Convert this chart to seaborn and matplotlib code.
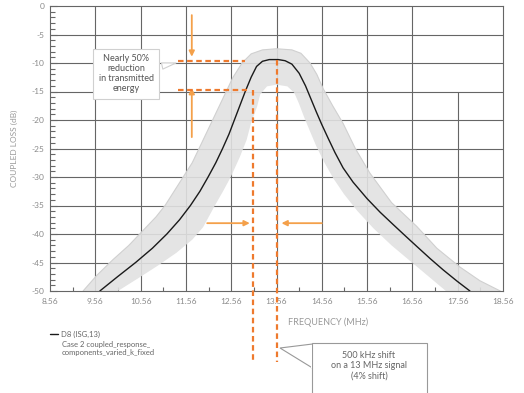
import numpy as np
import pandas as pd
import matplotlib
matplotlib.use('Agg')
from matplotlib import pyplot as plt
from matplotlib.patches import Rectangle, Polygon
import seaborn as sns

sns.set_style('white')
plt.rcParams['font.family'] = ['Lato', 'DejaVu Sans']

# ---- data ----
freq_ticks = [8.56, 9.56, 10.56, 11.56, 12.56, 13.56, 14.56, 15.56, 16.56, 17.56, 18.56]
loss_ticks = [0, -5, -10, -15, -20, -25, -30, -35, -40, -45, -50]

# nominal response (black)
d8_freq = [9.66, 10.05, 10.45, 10.82, 11.14, 11.42, 11.66, 11.87, 12.05, 12.22, 12.37,
           12.51, 12.63, 12.75, 12.87, 13.0, 13.12, 13.25, 13.4, 13.6, 13.75, 13.9,
           14.06, 14.2, 14.32, 14.44, 14.56, 14.7, 14.85, 15.03, 15.25, 15.56, 15.85,
           16.13, 16.4, 16.66, 16.95, 17.24, 17.55, 17.83]
d8_loss = [-50, -47.5, -45, -42.5, -40, -37.5, -35, -32.5, -30, -27.5, -25,
           -22.5, -20, -17.5, -15, -12.5, -10.6, -9.7, -9.4, -9.4, -9.6, -10.2,
           -11.8, -14, -16.3, -18.6, -20.8, -23.2, -25.7, -28.4, -30.9, -33.8, -36.2,
           -38.3, -40.3, -42.2, -44.3, -46.3, -48.3, -50]

# envelope of the varied-component responses (grey band)
upper_freq = [9.29, 9.6, 9.95, 10.3, 10.6, 10.9, 11.1, 11.3, 11.5, 11.7, 11.85, 12.0,
              12.15, 12.3, 12.45, 12.6, 12.8, 13.0, 13.25, 13.56, 13.9, 14.1, 14.3,
              14.45, 14.59, 14.8, 15.03, 15.3, 15.62, 16.1, 16.66, 17.1, 17.61, 18.05, 18.5]
upper_loss = [-50, -47.2, -44.5, -42, -39.5, -37, -35, -32.5, -30, -27.5, -25, -22.5,
              -20, -17.5, -15, -12.5, -10, -8.4, -7.7, -7.5, -7.7, -8.3, -10,
              -12, -14.5, -17.5, -20.6, -25, -29.3, -34.5, -38.7, -42.5, -45.8, -48.2, -50]
lower_freq = [10.06, 10.5, 10.95, 11.35, 11.7, 11.94, 12.2, 12.38, 12.55, 12.75, 12.9,
              13.0, 13.13, 13.2, 13.35, 13.56, 13.8, 13.95, 14.05, 14.17, 14.3, 14.45,
              14.62, 14.82, 15.05, 15.35, 15.7, 16.1, 16.55, 17.0, 17.3]
lower_loss = [-50, -47.8, -45.5, -43.3, -41, -38.8, -35, -32.5, -30, -26.5, -23.5,
              -20.5, -17.7, -15.5, -14.1, -13.8, -14.1, -15.2, -17, -19.5, -22, -24.8,
              -27.5, -30.3, -33, -36, -39, -42, -45, -48, -50]

# ---- figure ----
W, H = 524, 393
fig = plt.figure(figsize=(W / 100, H / 100), dpi=100)
ax = fig.add_axes([50 / W, 102 / H, 453 / W, 285 / H])

grid_col = '#666666'
orange = '#ee7a2e'
arrow_col = '#f4a04a'
txt_col = '#8a8a8a'

# grid
for f in freq_ticks[1:-1]:
    ax.axvline(f, ymax=0.7 if f == 17.56 else 1, color=grid_col, lw=0.8, zorder=1)
for l in loss_ticks[1:-1]:
    ax.axhline(l, color=grid_col, lw=0.8, zorder=1)

# grey band
band_x = upper_freq + lower_freq[::-1]
band_y = upper_loss + lower_loss[::-1]
ax.fill(band_x, band_y, color='#e1e1e1', alpha=0.9, lw=0, zorder=2)
ax.plot(upper_freq, upper_loss, color='#d0d0d0', lw=0.8, zorder=2)

df = pd.DataFrame({'freq': d8_freq, 'loss': d8_loss})
sns.lineplot(data=df, x='freq', y='loss', color='#1a1a1a', lw=1.0, ax=ax,
             label='D8 (ISG,13)', zorder=3)

ax.set_xlim(8.56, 18.56)
ax.set_ylim(-50, 0)
ax.set_xticks(freq_ticks)
ax.set_yticks(loss_ticks)
ax.set_xticks(np.arange(9.06, 18.56, 1.0), minor=True)
ax.set_yticks(np.arange(-49, 0, 1), minor=True)
ax.set_xticklabels([f'{f:.2f}' for f in freq_ticks])
ax.set_yticklabels([str(l) for l in loss_ticks])
ax.tick_params(axis='x', which='major', length=0, pad=5, labelsize=6, labelcolor=txt_col)
ax.tick_params(axis='x', which='minor', direction='in', length=3, width=0.8,
               color=grid_col, bottom=True)
ax.tick_params(axis='y', which='major', direction='in', length=5, width=0.8,
               color=grid_col, left=True, pad=4, labelsize=6, labelcolor=txt_col)
ax.tick_params(axis='y', which='minor', direction='in', length=3.5, width=0.8,
               color=grid_col, left=True)
for s in ax.spines.values():
    s.set_color(grid_col)
    s.set_linewidth(0.8)

ax.set_xlabel('')
ax.set_ylabel('COUPLED LOSS (dB)', fontsize=6, color='#999999')
ax.yaxis.set_label_coords(-32 / 453, 0.5)
fig.text(328 / W, 1 - 322 / H, 'FREQUENCY (MHz)', fontsize=6.5, color='#999999',
         ha='center', va='center')

# orange dashed guides
dash = dict(color=orange, lw=1.6, dashes=(2.5, 1.6), zorder=4, clip_on=False)
ax.plot([11.39, 12.86], [-9.6, -9.6], **dash)
ax.plot([11.39, 12.9], [-14.8, -14.8], **dash)
ax.plot([13.56, 13.56], [-9.5, -62.5], **dash)
ax.plot([13.05, 13.05], [-14.8, -62.5], **dash)

# arrows
ap = dict(arrowstyle='-|>', color=arrow_col, lw=1.3, mutation_scale=8, shrinkA=0, shrinkB=0)
ax.annotate('', xy=(11.69, -8.9), xytext=(11.69, -1.6), arrowprops=ap)
ax.annotate('', xy=(11.69, -14.4), xytext=(11.69, -23), arrowprops=ap)
ax.annotate('', xy=(12.97, -38.1), xytext=(12.03, -38.1), arrowprops=ap)
ax.annotate('', xy=(13.67, -38.1), xytext=(14.56, -38.1), arrowprops=ap)

# callout 1
ax.annotate('Nearly 50%\nreduction\nin transmitted\nenergy', xy=(11.4, -9.9),
            xytext=(10.24, -11.9), ha='center', va='center', fontsize=6.5,
            color='#555555', linespacing=1.15, zorder=5,
            bbox=dict(boxstyle='square,pad=0.6', fc='white', ec='#d0d0d0', lw=0.8),
            arrowprops=dict(arrowstyle='wedge,tail_width=0.7,shrink_factor=0.5',
                            fc='white', ec='#d0d0d0', lw=0.8))

# callout 2 (box runs off the bottom edge)
def fxy(px, py):
    return (px / W, 1 - py / H)

fig.add_artist(Polygon([fxy(280, 348), fxy(312.5, 344), fxy(312.5, 368)], closed=True,
                       fc='white', ec='#999999', lw=0.8, transform=fig.transFigure,
                       zorder=5))
fig.add_artist(Rectangle(fxy(311.7, 396), 115 / W, 53 / H, fc='white', ec='#999999',
                         lw=0.8, transform=fig.transFigure, zorder=5))
fig.add_artist(Polygon([fxy(311.2, 344.5), fxy(312.2, 344.5), fxy(312.2, 367.5),
                        fxy(311.2, 367.5)], closed=True, fc='white', ec='none',
                       transform=fig.transFigure, zorder=6))
fig.text(369 / W, 1 - 366 / H, '500 kHz shift\non a 13 MHz signal\n(4% shift)',
         ha='center', va='center', fontsize=6.5, color='#666666', linespacing=1.2,
         zorder=7)

# legend
ax.legend(loc='center left', bbox_to_anchor=(50 / W, 1 - 334 / H),
          bbox_transform=fig.transFigure, frameon=False, fontsize=5.5,
          handlelength=1.0, handletextpad=0.5, borderpad=0, borderaxespad=0,
          labelcolor='#666666')
fig.text(62 / W, 1 - 341 / H, 'Case 2 coupled_response_\ncomponents_varied_k_fixed',
         fontsize=5.5, color='#666666', va='top', ha='left', linespacing=1.25)

fig.savefig('out.png', dpi=100)
